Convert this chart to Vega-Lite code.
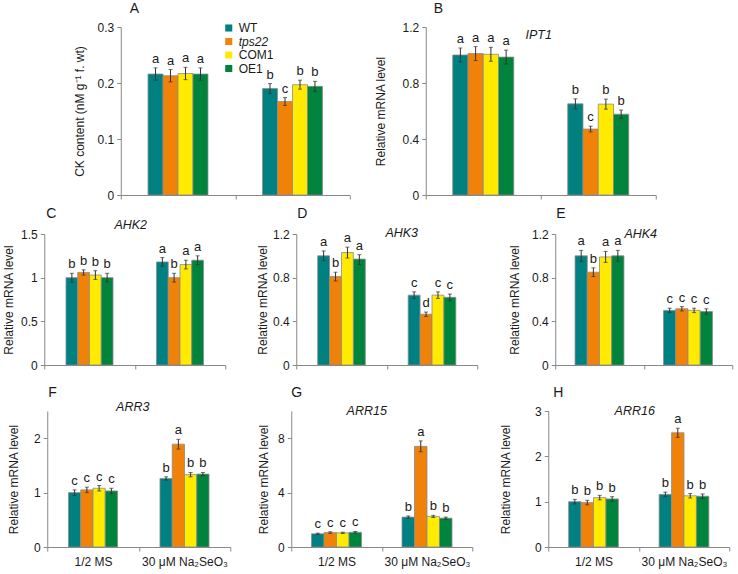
{
"$schema": "https://vega.github.io/schema/vega-lite/v6.json",
"background": "white",
"padding": {"left": 2, "top": 2, "right": 2, "bottom": 2},
"config": {"font": "Liberation Sans", "view": {"stroke": null},
 "axis": {"domainColor": "#888", "tickColor": "#888", "tickSize": 4, "labelFontSize": 12, "titleFontSize": 12, "titleFontWeight": "normal", "labelColor": "#1a1a1a", "titleColor": "#1a1a1a", "grid": false},
 "axisY": {"labelPadding": 3, "titlePadding": 5},
 "axisX": {"tickBand": "extent", "labelAngle": 0, "labelPadding": 5}
},
"datasets": {"d": [
{"p":"A","c":"1/2 MS","g":"WT","v":0.216,"lo":0.205,"hi":0.227,"L":"a"},
{"p":"A","c":"1/2 MS","g":"tps22","v":0.213,"lo":0.202,"hi":0.224,"L":"a"},
{"p":"A","c":"1/2 MS","g":"COM1","v":0.217,"lo":0.206,"hi":0.228,"L":"a"},
{"p":"A","c":"1/2 MS","g":"OE1","v":0.216,"lo":0.205,"hi":0.227,"L":"a"},
{"p":"A","c":"30 μM Na₂SeO₃","g":"WT","v":0.190,"lo":0.181,"hi":0.199,"L":"b"},
{"p":"A","c":"30 μM Na₂SeO₃","g":"tps22","v":0.167,"lo":0.160,"hi":0.174,"L":"c"},
{"p":"A","c":"30 μM Na₂SeO₃","g":"COM1","v":0.197,"lo":0.189,"hi":0.205,"L":"b"},
{"p":"A","c":"30 μM Na₂SeO₃","g":"OE1","v":0.194,"lo":0.185,"hi":0.203,"L":"b"},
{"p":"B","c":"1/2 MS","g":"WT","v":1.0,"lo":0.95,"hi":1.05,"L":"a"},
{"p":"B","c":"1/2 MS","g":"tps22","v":1.01,"lo":0.96,"hi":1.06,"L":"a"},
{"p":"B","c":"1/2 MS","g":"COM1","v":1.005,"lo":0.955,"hi":1.055,"L":"a"},
{"p":"B","c":"1/2 MS","g":"OE1","v":0.985,"lo":0.935,"hi":1.035,"L":"a"},
{"p":"B","c":"30 μM Na₂SeO₃","g":"WT","v":0.651,"lo":0.615,"hi":0.687,"L":"b"},
{"p":"B","c":"30 μM Na₂SeO₃","g":"tps22","v":0.471,"lo":0.45,"hi":0.492,"L":"c"},
{"p":"B","c":"30 μM Na₂SeO₃","g":"COM1","v":0.649,"lo":0.613,"hi":0.685,"L":"b"},
{"p":"B","c":"30 μM Na₂SeO₃","g":"OE1","v":0.577,"lo":0.547,"hi":0.607,"L":"b"},
{"p":"C","c":"1/2 MS","g":"WT","v":1.0,"lo":0.95,"hi":1.05,"L":"b"},
{"p":"C","c":"1/2 MS","g":"tps22","v":1.06,"lo":1.03,"hi":1.09,"L":"b"},
{"p":"C","c":"1/2 MS","g":"COM1","v":1.03,"lo":0.98,"hi":1.08,"L":"b"},
{"p":"C","c":"1/2 MS","g":"OE1","v":1.0,"lo":0.95,"hi":1.05,"L":"b"},
{"p":"C","c":"30 μM Na₂SeO₃","g":"WT","v":1.18,"lo":1.13,"hi":1.23,"L":"a"},
{"p":"C","c":"30 μM Na₂SeO₃","g":"tps22","v":1.0,"lo":0.95,"hi":1.05,"L":"b"},
{"p":"C","c":"30 μM Na₂SeO₃","g":"COM1","v":1.15,"lo":1.1,"hi":1.2,"L":"a"},
{"p":"C","c":"30 μM Na₂SeO₃","g":"OE1","v":1.2,"lo":1.15,"hi":1.25,"L":"a"},
{"p":"D","c":"1/2 MS","g":"WT","v":1.0,"lo":0.955,"hi":1.045,"L":"a"},
{"p":"D","c":"1/2 MS","g":"tps22","v":0.81,"lo":0.77,"hi":0.85,"L":"b"},
{"p":"D","c":"1/2 MS","g":"COM1","v":1.03,"lo":0.98,"hi":1.08,"L":"a"},
{"p":"D","c":"1/2 MS","g":"OE1","v":0.97,"lo":0.92,"hi":1.01,"L":"a"},
{"p":"D","c":"30 μM Na₂SeO₃","g":"WT","v":0.64,"lo":0.61,"hi":0.67,"L":"c"},
{"p":"D","c":"30 μM Na₂SeO₃","g":"tps22","v":0.465,"lo":0.445,"hi":0.485,"L":"d"},
{"p":"D","c":"30 μM Na₂SeO₃","g":"COM1","v":0.64,"lo":0.61,"hi":0.67,"L":"c"},
{"p":"D","c":"30 μM Na₂SeO₃","g":"OE1","v":0.62,"lo":0.59,"hi":0.65,"L":"c"},
{"p":"E","c":"1/2 MS","g":"WT","v":1.0,"lo":0.95,"hi":1.05,"L":"a"},
{"p":"E","c":"1/2 MS","g":"tps22","v":0.85,"lo":0.81,"hi":0.89,"L":"b"},
{"p":"E","c":"1/2 MS","g":"COM1","v":0.99,"lo":0.94,"hi":1.04,"L":"a"},
{"p":"E","c":"1/2 MS","g":"OE1","v":1.0,"lo":0.95,"hi":1.05,"L":"a"},
{"p":"E","c":"30 μM Na₂SeO₃","g":"WT","v":0.50,"lo":0.48,"hi":0.52,"L":"c"},
{"p":"E","c":"30 μM Na₂SeO₃","g":"tps22","v":0.515,"lo":0.495,"hi":0.535,"L":"c"},
{"p":"E","c":"30 μM Na₂SeO₃","g":"COM1","v":0.50,"lo":0.48,"hi":0.52,"L":"c"},
{"p":"E","c":"30 μM Na₂SeO₃","g":"OE1","v":0.49,"lo":0.465,"hi":0.515,"L":"c"},
{"p":"F","c":"1/2 MS","g":"WT","v":1.0,"lo":0.95,"hi":1.05,"L":"c"},
{"p":"F","c":"1/2 MS","g":"tps22","v":1.05,"lo":1.0,"hi":1.1,"L":"c"},
{"p":"F","c":"1/2 MS","g":"COM1","v":1.08,"lo":1.03,"hi":1.13,"L":"c"},
{"p":"F","c":"1/2 MS","g":"OE1","v":1.03,"lo":0.98,"hi":1.08,"L":"c"},
{"p":"F","c":"30 μM Na₂SeO₃","g":"WT","v":1.26,"lo":1.23,"hi":1.29,"L":"b"},
{"p":"F","c":"30 μM Na₂SeO₃","g":"tps22","v":1.89,"lo":1.8,"hi":1.98,"L":"a"},
{"p":"F","c":"30 μM Na₂SeO₃","g":"COM1","v":1.33,"lo":1.29,"hi":1.37,"L":"b"},
{"p":"F","c":"30 μM Na₂SeO₃","g":"OE1","v":1.34,"lo":1.31,"hi":1.37,"L":"b"},
{"p":"G","c":"1/2 MS","g":"WT","v":0.97,"lo":0.92,"hi":1.02,"L":"c"},
{"p":"G","c":"1/2 MS","g":"tps22","v":1.06,"lo":1.0,"hi":1.12,"L":"c"},
{"p":"G","c":"1/2 MS","g":"COM1","v":1.04,"lo":0.99,"hi":1.09,"L":"c"},
{"p":"G","c":"1/2 MS","g":"OE1","v":1.08,"lo":1.02,"hi":1.14,"L":"c"},
{"p":"G","c":"30 μM Na₂SeO₃","g":"WT","v":2.2,"lo":2.12,"hi":2.28,"L":"b"},
{"p":"G","c":"30 μM Na₂SeO₃","g":"tps22","v":7.4,"lo":7.0,"hi":7.8,"L":"a"},
{"p":"G","c":"30 μM Na₂SeO₃","g":"COM1","v":2.25,"lo":2.17,"hi":2.33,"L":"b"},
{"p":"G","c":"30 μM Na₂SeO₃","g":"OE1","v":2.12,"lo":2.04,"hi":2.2,"L":"b"},
{"p":"H","c":"1/2 MS","g":"WT","v":1.0,"lo":0.95,"hi":1.05,"L":"b"},
{"p":"H","c":"1/2 MS","g":"tps22","v":0.98,"lo":0.93,"hi":1.03,"L":"b"},
{"p":"H","c":"1/2 MS","g":"COM1","v":1.09,"lo":1.04,"hi":1.14,"L":"b"},
{"p":"H","c":"1/2 MS","g":"OE1","v":1.06,"lo":1.01,"hi":1.11,"L":"b"},
{"p":"H","c":"30 μM Na₂SeO₃","g":"WT","v":1.16,"lo":1.11,"hi":1.21,"L":"b"},
{"p":"H","c":"30 μM Na₂SeO₃","g":"tps22","v":2.52,"lo":2.42,"hi":2.62,"L":"a"},
{"p":"H","c":"30 μM Na₂SeO₃","g":"COM1","v":1.13,"lo":1.08,"hi":1.18,"L":"b"},
{"p":"H","c":"30 μM Na₂SeO₃","g":"OE1","v":1.12,"lo":1.07,"hi":1.17,"L":"b"}
]},
"center": true,
"spacing": 6,
"resolve": {"scale": {"x": "independent", "y": "independent", "xOffset": "independent", "color": "independent"}, "legend": {"color": "independent"}},
"vconcat": [
{"hconcat": [
 {"width": 229, "height": 168,
  "data": {"name": "d"}, "transform": [{"filter": "datum.p === 'A'"}],
  "layer": [
   {"mark": {"type": "bar", "stroke": "#8c8c8c", "strokeWidth": 0.8},
    "encoding": {
     "x": {"field": "c", "type": "nominal", "title": null, "scale": {"domain": ["1/2 MS", "30 μM Na₂SeO₃"], "paddingInner": 0, "paddingOuter": 0}, "axis": {"labels": false}},
     "xOffset": {"field": "g", "type": "nominal", "scale": {"domain": ["_l", "WT", "tps22", "COM1", "OE1", "_r"], "paddingInner": 0, "paddingOuter": 0.82}},
     "y": {"field": "v", "type": "quantitative", "title": "CK content (nM g⁻¹ f. wt)", "scale": {"domain": [0, 0.3], "nice": false}, "axis": {"values": [0, 0.1, 0.2, 0.3], "format": ".1~f", "titlePadding": 10.3}},
     "color": {"field": "g", "type": "nominal", "scale": {"domain": ["WT", "tps22", "COM1", "OE1"], "range": ["#008080", "#f0820a", "#ffea00", "#00843d"]},
      "legend": {"orient": "none", "legendX": 102, "legendY": -5, "title": null, "symbolType": "square", "symbolSize": 50, "symbolStrokeWidth": 0, "labelFontSize": 12, "rowPadding": 1.5, "labelOffset": 4, "labelColor": "#1a1a1a", "labelFontStyle": {"expr": "datum.label === 'tps22' ? 'italic' : 'normal'"}}}
    }},
   {"mark": {"type": "rule", "color": "#333", "strokeWidth": 1},
    "encoding": {"x": {"field": "c", "type": "nominal"}, "xOffset": {"field": "g", "type": "nominal"}, "y": {"field": "lo", "type": "quantitative", "title": "CK content (nM g⁻¹ f. wt)"}, "y2": {"field": "hi"}}},
   {"mark": {"type": "tick", "color": "#333", "size": 4, "thickness": 1},
    "encoding": {"x": {"field": "c", "type": "nominal"}, "xOffset": {"field": "g", "type": "nominal"}, "y": {"field": "hi", "type": "quantitative", "title": "CK content (nM g⁻¹ f. wt)"}}},
   {"mark": {"type": "tick", "color": "#333", "size": 4, "thickness": 1},
    "encoding": {"x": {"field": "c", "type": "nominal"}, "xOffset": {"field": "g", "type": "nominal"}, "y": {"field": "lo", "type": "quantitative", "title": "CK content (nM g⁻¹ f. wt)"}}},
   {"mark": {"type": "text", "baseline": "bottom", "dy": -2, "fontSize": 13, "color": "#1a1a1a"},
    "encoding": {"x": {"field": "c", "type": "nominal"}, "xOffset": {"field": "g", "type": "nominal"}, "y": {"field": "hi", "type": "quantitative", "title": "CK content (nM g⁻¹ f. wt)"}, "text": {"field": "L"}}},
   {"data": {"values": [{"t": "A"}]},
    "mark": {"type": "text", "fontSize": 14, "align": "left", "baseline": "alphabetic", "dx": 9, "dy": -14, "color": "#1a1a1a"},
    "encoding": {"x": {"datum": "1/2 MS", "type": "nominal", "bandPosition": 0}, "y": {"datum": 0.3, "type": "quantitative", "title": "CK content (nM g⁻¹ f. wt)"}, "text": {"field": "t"}}}
  ]},
 {"width": 230, "height": 168,
  "data": {"name": "d"}, "transform": [{"filter": "datum.p === 'B'"}],
  "layer": [
   {"mark": {"type": "bar", "stroke": "#8c8c8c", "strokeWidth": 0.8},
    "encoding": {
     "x": {"field": "c", "type": "nominal", "title": null, "scale": {"domain": ["1/2 MS", "30 μM Na₂SeO₃"], "paddingInner": 0, "paddingOuter": 0}, "axis": {"labels": false}},
     "xOffset": {"field": "g", "type": "nominal", "scale": {"domain": ["_l", "WT", "tps22", "COM1", "OE1", "_r"], "paddingInner": 0, "paddingOuter": 0.77}},
     "y": {"field": "v", "type": "quantitative", "title": "Relative mRNA level", "scale": {"domain": [0, 1.2], "nice": false}, "axis": {"values": [0, 0.4, 0.8, 1.2], "format": ".1~f", "titlePadding": 14.3}},
     "color": {"field": "g", "type": "nominal", "scale": {"domain": ["WT", "tps22", "COM1", "OE1"], "range": ["#008080", "#f0820a", "#ffea00", "#00843d"]}, "legend": null}
    }},
   {"mark": {"type": "rule", "color": "#333", "strokeWidth": 1},
    "encoding": {"x": {"field": "c", "type": "nominal"}, "xOffset": {"field": "g", "type": "nominal"}, "y": {"field": "lo", "type": "quantitative", "title": "Relative mRNA level"}, "y2": {"field": "hi"}}},
   {"mark": {"type": "tick", "color": "#333", "size": 4, "thickness": 1},
    "encoding": {"x": {"field": "c", "type": "nominal"}, "xOffset": {"field": "g", "type": "nominal"}, "y": {"field": "hi", "type": "quantitative", "title": "Relative mRNA level"}}},
   {"mark": {"type": "tick", "color": "#333", "size": 4, "thickness": 1},
    "encoding": {"x": {"field": "c", "type": "nominal"}, "xOffset": {"field": "g", "type": "nominal"}, "y": {"field": "lo", "type": "quantitative", "title": "Relative mRNA level"}}},
   {"mark": {"type": "text", "baseline": "bottom", "dy": -2, "fontSize": 13, "color": "#1a1a1a"},
    "encoding": {"x": {"field": "c", "type": "nominal"}, "xOffset": {"field": "g", "type": "nominal"}, "y": {"field": "hi", "type": "quantitative", "title": "Relative mRNA level"}, "text": {"field": "L"}}},
   {"data": {"values": [{"gene": "IPT1"}]},
    "mark": {"type": "text", "fontStyle": "italic", "fontSize": 12.5, "baseline": "middle", "dx": -2, "dy": 8, "color": "#1a1a1a"},
    "encoding": {"x": {"datum": "1/2 MS", "type": "nominal", "bandPosition": 1}, "y": {"datum": 1.2, "type": "quantitative", "title": "Relative mRNA level"}, "text": {"field": "gene"}}},
   {"data": {"values": [{"t": "B"}]},
    "mark": {"type": "text", "fontSize": 14, "align": "left", "baseline": "alphabetic", "dx": 8, "dy": -14, "color": "#1a1a1a"},
    "encoding": {"x": {"datum": "1/2 MS", "type": "nominal", "bandPosition": 0}, "y": {"datum": 1.2, "type": "quantitative", "title": "Relative mRNA level"}, "text": {"field": "t"}}}
  ]}
 ], "spacing": 24, "resolve": {"scale": {"x": "independent", "y": "independent", "xOffset": "independent", "color": "independent"}, "legend": {"color": "independent"}}},
{"hconcat": [
 {"width": 181, "height": 131,
  "data": {"name": "d"}, "transform": [{"filter": "datum.p === 'C'"}],
  "layer": [
   {"mark": {"type": "bar", "stroke": "#8c8c8c", "strokeWidth": 0.8},
    "encoding": {
     "x": {"field": "c", "type": "nominal", "title": null, "scale": {"domain": ["1/2 MS", "30 μM Na₂SeO₃"], "paddingInner": 0, "paddingOuter": 0}, "axis": {"labels": false, "minExtent": 15}},
     "xOffset": {"field": "g", "type": "nominal", "scale": {"domain": ["_l", "WT", "tps22", "COM1", "OE1", "_r"], "paddingInner": 0, "paddingOuter": 0.85}},
     "y": {"field": "v", "type": "quantitative", "title": "Relative mRNA level", "scale": {"domain": [0, 1.5], "nice": false}, "axis": {"values": [0, 0.5, 1, 1.5], "format": ".1~f", "titlePadding": 5.3}},
     "color": {"field": "g", "type": "nominal", "scale": {"domain": ["WT", "tps22", "COM1", "OE1"], "range": ["#008080", "#f0820a", "#ffea00", "#00843d"]}, "legend": null}
    }},
   {"mark": {"type": "rule", "color": "#333", "strokeWidth": 1},
    "encoding": {"x": {"field": "c", "type": "nominal"}, "xOffset": {"field": "g", "type": "nominal"}, "y": {"field": "lo", "type": "quantitative", "title": "Relative mRNA level"}, "y2": {"field": "hi"}}},
   {"mark": {"type": "tick", "color": "#333", "size": 4, "thickness": 1},
    "encoding": {"x": {"field": "c", "type": "nominal"}, "xOffset": {"field": "g", "type": "nominal"}, "y": {"field": "hi", "type": "quantitative", "title": "Relative mRNA level"}}},
   {"mark": {"type": "tick", "color": "#333", "size": 4, "thickness": 1},
    "encoding": {"x": {"field": "c", "type": "nominal"}, "xOffset": {"field": "g", "type": "nominal"}, "y": {"field": "lo", "type": "quantitative", "title": "Relative mRNA level"}}},
   {"mark": {"type": "text", "baseline": "bottom", "dy": -2, "fontSize": 13, "color": "#1a1a1a"},
    "encoding": {"x": {"field": "c", "type": "nominal"}, "xOffset": {"field": "g", "type": "nominal"}, "y": {"field": "hi", "type": "quantitative", "title": "Relative mRNA level"}, "text": {"field": "L"}}},
   {"data": {"values": [{"gene": "AHK2"}]},
    "mark": {"type": "text", "fontStyle": "italic", "fontSize": 12.5, "baseline": "middle", "dx": -4, "dy": -9, "color": "#1a1a1a"},
    "encoding": {"x": {"datum": "1/2 MS", "type": "nominal", "bandPosition": 1}, "y": {"datum": 1.5, "type": "quantitative", "title": "Relative mRNA level"}, "text": {"field": "gene"}}},
   {"data": {"values": [{"t": "C"}]},
    "mark": {"type": "text", "fontSize": 14, "align": "left", "baseline": "alphabetic", "dx": 2, "dy": -16, "color": "#1a1a1a"},
    "encoding": {"x": {"datum": "1/2 MS", "type": "nominal", "bandPosition": 0}, "y": {"datum": 1.5, "type": "quantitative", "title": "Relative mRNA level"}, "text": {"field": "t"}}}
  ]},
 {"width": 181, "height": 131,
  "data": {"name": "d"}, "transform": [{"filter": "datum.p === 'D'"}],
  "layer": [
   {"mark": {"type": "bar", "stroke": "#8c8c8c", "strokeWidth": 0.8},
    "encoding": {
     "x": {"field": "c", "type": "nominal", "title": null, "scale": {"domain": ["1/2 MS", "30 μM Na₂SeO₃"], "paddingInner": 0, "paddingOuter": 0}, "axis": {"labels": false, "minExtent": 15}},
     "xOffset": {"field": "g", "type": "nominal", "scale": {"domain": ["_l", "WT", "tps22", "COM1", "OE1", "_r"], "paddingInner": 0, "paddingOuter": 0.8}},
     "y": {"field": "v", "type": "quantitative", "title": "Relative mRNA level", "scale": {"domain": [0, 1.2], "nice": false}, "axis": {"values": [0, 0.4, 0.8, 1.2], "format": ".1~f", "titlePadding": 3.3}},
     "color": {"field": "g", "type": "nominal", "scale": {"domain": ["WT", "tps22", "COM1", "OE1"], "range": ["#008080", "#f0820a", "#ffea00", "#00843d"]}, "legend": null}
    }},
   {"mark": {"type": "rule", "color": "#333", "strokeWidth": 1},
    "encoding": {"x": {"field": "c", "type": "nominal"}, "xOffset": {"field": "g", "type": "nominal"}, "y": {"field": "lo", "type": "quantitative", "title": "Relative mRNA level"}, "y2": {"field": "hi"}}},
   {"mark": {"type": "tick", "color": "#333", "size": 4, "thickness": 1},
    "encoding": {"x": {"field": "c", "type": "nominal"}, "xOffset": {"field": "g", "type": "nominal"}, "y": {"field": "hi", "type": "quantitative", "title": "Relative mRNA level"}}},
   {"mark": {"type": "tick", "color": "#333", "size": 4, "thickness": 1},
    "encoding": {"x": {"field": "c", "type": "nominal"}, "xOffset": {"field": "g", "type": "nominal"}, "y": {"field": "lo", "type": "quantitative", "title": "Relative mRNA level"}}},
   {"mark": {"type": "text", "baseline": "bottom", "dy": -2, "fontSize": 13, "color": "#1a1a1a"},
    "encoding": {"x": {"field": "c", "type": "nominal"}, "xOffset": {"field": "g", "type": "nominal"}, "y": {"field": "hi", "type": "quantitative", "title": "Relative mRNA level"}, "text": {"field": "L"}}},
   {"data": {"values": [{"gene": "AHK3"}]},
    "mark": {"type": "text", "fontStyle": "italic", "fontSize": 12.5, "baseline": "middle", "dx": 15, "dy": -1, "color": "#1a1a1a"},
    "encoding": {"x": {"datum": "1/2 MS", "type": "nominal", "bandPosition": 1}, "y": {"datum": 1.2, "type": "quantitative", "title": "Relative mRNA level"}, "text": {"field": "gene"}}},
   {"data": {"values": [{"t": "D"}]},
    "mark": {"type": "text", "fontSize": 14, "align": "left", "baseline": "alphabetic", "dx": 1, "dy": -16, "color": "#1a1a1a"},
    "encoding": {"x": {"datum": "1/2 MS", "type": "nominal", "bandPosition": 0}, "y": {"datum": 1.2, "type": "quantitative", "title": "Relative mRNA level"}, "text": {"field": "t"}}}
  ]},
 {"width": 177, "height": 131,
  "data": {"name": "d"}, "transform": [{"filter": "datum.p === 'E'"}],
  "layer": [
   {"mark": {"type": "bar", "stroke": "#8c8c8c", "strokeWidth": 0.8},
    "encoding": {
     "x": {"field": "c", "type": "nominal", "title": null, "scale": {"domain": ["1/2 MS", "30 μM Na₂SeO₃"], "paddingInner": 0, "paddingOuter": 0}, "axis": {"labels": false, "minExtent": 15}},
     "xOffset": {"field": "g", "type": "nominal", "scale": {"domain": ["_l", "WT", "tps22", "COM1", "OE1", "_r"], "paddingInner": 0, "paddingOuter": 0.62}},
     "y": {"field": "v", "type": "quantitative", "title": "Relative mRNA level", "scale": {"domain": [0, 1.2], "nice": false}, "axis": {"values": [0, 0.4, 0.8, 1.2], "format": ".1~f", "titlePadding": 10.3}},
     "color": {"field": "g", "type": "nominal", "scale": {"domain": ["WT", "tps22", "COM1", "OE1"], "range": ["#008080", "#f0820a", "#ffea00", "#00843d"]}, "legend": null}
    }},
   {"mark": {"type": "rule", "color": "#333", "strokeWidth": 1},
    "encoding": {"x": {"field": "c", "type": "nominal"}, "xOffset": {"field": "g", "type": "nominal"}, "y": {"field": "lo", "type": "quantitative", "title": "Relative mRNA level"}, "y2": {"field": "hi"}}},
   {"mark": {"type": "tick", "color": "#333", "size": 4, "thickness": 1},
    "encoding": {"x": {"field": "c", "type": "nominal"}, "xOffset": {"field": "g", "type": "nominal"}, "y": {"field": "hi", "type": "quantitative", "title": "Relative mRNA level"}}},
   {"mark": {"type": "tick", "color": "#333", "size": 4, "thickness": 1},
    "encoding": {"x": {"field": "c", "type": "nominal"}, "xOffset": {"field": "g", "type": "nominal"}, "y": {"field": "lo", "type": "quantitative", "title": "Relative mRNA level"}}},
   {"mark": {"type": "text", "baseline": "bottom", "dy": -2, "fontSize": 13, "color": "#1a1a1a"},
    "encoding": {"x": {"field": "c", "type": "nominal"}, "xOffset": {"field": "g", "type": "nominal"}, "y": {"field": "hi", "type": "quantitative", "title": "Relative mRNA level"}, "text": {"field": "L"}}},
   {"data": {"values": [{"gene": "AHK4"}]},
    "mark": {"type": "text", "fontStyle": "italic", "fontSize": 12.5, "baseline": "middle", "dx": -3, "dy": 0, "color": "#1a1a1a"},
    "encoding": {"x": {"datum": "1/2 MS", "type": "nominal", "bandPosition": 1}, "y": {"datum": 1.2, "type": "quantitative", "title": "Relative mRNA level"}, "text": {"field": "gene"}}},
   {"data": {"values": [{"t": "E"}]},
    "mark": {"type": "text", "fontSize": 14, "align": "left", "baseline": "alphabetic", "dx": 1, "dy": -16, "color": "#1a1a1a"},
    "encoding": {"x": {"datum": "1/2 MS", "type": "nominal", "bandPosition": 0}, "y": {"datum": 1.2, "type": "quantitative", "title": "Relative mRNA level"}, "text": {"field": "t"}}}
  ]}
 ], "spacing": 30, "resolve": {"scale": {"x": "independent", "y": "independent", "xOffset": "independent", "color": "independent"}, "legend": {"color": "independent"}}},
{"hconcat": [
 {"width": 183, "height": 136,
  "data": {"name": "d"}, "transform": [{"filter": "datum.p === 'F'"}],
  "layer": [
   {"mark": {"type": "bar", "stroke": "#8c8c8c", "strokeWidth": 0.8},
    "encoding": {
     "x": {"field": "c", "type": "nominal", "title": null, "scale": {"domain": ["1/2 MS", "30 μM Na₂SeO₃"], "paddingInner": 0, "paddingOuter": 0}, "axis": {"labels": true}},
     "xOffset": {"field": "g", "type": "nominal", "scale": {"domain": ["_l", "WT", "tps22", "COM1", "OE1", "_r"], "paddingInner": 0, "paddingOuter": 0.73}},
     "y": {"field": "v", "type": "quantitative", "title": "Relative mRNA level", "scale": {"domain": [0, 2.5], "nice": false}, "axis": {"values": [0, 0.5, 1, 1.5, 2, 2.5], "format": ".1~f", "titlePadding": 13.3}},
     "color": {"field": "g", "type": "nominal", "scale": {"domain": ["WT", "tps22", "COM1", "OE1"], "range": ["#008080", "#f0820a", "#ffea00", "#00843d"]}, "legend": null}
    }},
   {"mark": {"type": "rule", "color": "#333", "strokeWidth": 1},
    "encoding": {"x": {"field": "c", "type": "nominal"}, "xOffset": {"field": "g", "type": "nominal"}, "y": {"field": "lo", "type": "quantitative", "title": "Relative mRNA level"}, "y2": {"field": "hi"}}},
   {"mark": {"type": "tick", "color": "#333", "size": 4, "thickness": 1},
    "encoding": {"x": {"field": "c", "type": "nominal"}, "xOffset": {"field": "g", "type": "nominal"}, "y": {"field": "hi", "type": "quantitative", "title": "Relative mRNA level"}}},
   {"mark": {"type": "tick", "color": "#333", "size": 4, "thickness": 1},
    "encoding": {"x": {"field": "c", "type": "nominal"}, "xOffset": {"field": "g", "type": "nominal"}, "y": {"field": "lo", "type": "quantitative", "title": "Relative mRNA level"}}},
   {"mark": {"type": "text", "baseline": "bottom", "dy": -2, "fontSize": 13, "color": "#1a1a1a"},
    "encoding": {"x": {"field": "c", "type": "nominal"}, "xOffset": {"field": "g", "type": "nominal"}, "y": {"field": "hi", "type": "quantitative", "title": "Relative mRNA level"}, "text": {"field": "L"}}},
   {"data": {"values": [{"gene": "ARR3"}]},
    "mark": {"type": "text", "fontStyle": "italic", "fontSize": 12.5, "baseline": "middle", "dx": -6, "dy": -4, "color": "#1a1a1a"},
    "encoding": {"x": {"datum": "1/2 MS", "type": "nominal", "bandPosition": 1}, "y": {"datum": 2.5, "type": "quantitative", "title": "Relative mRNA level"}, "text": {"field": "gene"}}},
   {"data": {"values": [{"t": "F"}]},
    "mark": {"type": "text", "fontSize": 14, "align": "left", "baseline": "alphabetic", "dx": 1, "dy": -14, "color": "#1a1a1a"},
    "encoding": {"x": {"datum": "1/2 MS", "type": "nominal", "bandPosition": 0}, "y": {"datum": 2.5, "type": "quantitative", "title": "Relative mRNA level"}, "text": {"field": "t"}}}
  ]},
 {"width": 181, "height": 136,
  "data": {"name": "d"}, "transform": [{"filter": "datum.p === 'G'"}],
  "layer": [
   {"mark": {"type": "bar", "stroke": "#8c8c8c", "strokeWidth": 0.8},
    "encoding": {
     "x": {"field": "c", "type": "nominal", "title": null, "scale": {"domain": ["1/2 MS", "30 μM Na₂SeO₃"], "paddingInner": 0, "paddingOuter": 0}, "axis": {"labels": true}},
     "xOffset": {"field": "g", "type": "nominal", "scale": {"domain": ["_l", "WT", "tps22", "COM1", "OE1", "_r"], "paddingInner": 0, "paddingOuter": 0.62}},
     "y": {"field": "v", "type": "quantitative", "title": "Relative mRNA level", "scale": {"domain": [0, 10], "nice": false}, "axis": {"values": [0, 2, 4, 6, 8, 10], "format": ".1~f", "titlePadding": 6.7}},
     "color": {"field": "g", "type": "nominal", "scale": {"domain": ["WT", "tps22", "COM1", "OE1"], "range": ["#008080", "#f0820a", "#ffea00", "#00843d"]}, "legend": null}
    }},
   {"mark": {"type": "rule", "color": "#333", "strokeWidth": 1},
    "encoding": {"x": {"field": "c", "type": "nominal"}, "xOffset": {"field": "g", "type": "nominal"}, "y": {"field": "lo", "type": "quantitative", "title": "Relative mRNA level"}, "y2": {"field": "hi"}}},
   {"mark": {"type": "tick", "color": "#333", "size": 4, "thickness": 1},
    "encoding": {"x": {"field": "c", "type": "nominal"}, "xOffset": {"field": "g", "type": "nominal"}, "y": {"field": "hi", "type": "quantitative", "title": "Relative mRNA level"}}},
   {"mark": {"type": "tick", "color": "#333", "size": 4, "thickness": 1},
    "encoding": {"x": {"field": "c", "type": "nominal"}, "xOffset": {"field": "g", "type": "nominal"}, "y": {"field": "lo", "type": "quantitative", "title": "Relative mRNA level"}}},
   {"mark": {"type": "text", "baseline": "bottom", "dy": -2, "fontSize": 13, "color": "#1a1a1a"},
    "encoding": {"x": {"field": "c", "type": "nominal"}, "xOffset": {"field": "g", "type": "nominal"}, "y": {"field": "hi", "type": "quantitative", "title": "Relative mRNA level"}, "text": {"field": "L"}}},
   {"data": {"values": [{"gene": "ARR15"}]},
    "mark": {"type": "text", "fontStyle": "italic", "fontSize": 12.5, "baseline": "middle", "dx": -15, "dy": 0, "color": "#1a1a1a"},
    "encoding": {"x": {"datum": "1/2 MS", "type": "nominal", "bandPosition": 1}, "y": {"datum": 10, "type": "quantitative", "title": "Relative mRNA level"}, "text": {"field": "gene"}}},
   {"data": {"values": [{"t": "G"}]},
    "mark": {"type": "text", "fontSize": 14, "align": "left", "baseline": "alphabetic", "dx": 0, "dy": -14, "color": "#1a1a1a"},
    "encoding": {"x": {"datum": "1/2 MS", "type": "nominal", "bandPosition": 0}, "y": {"datum": 10, "type": "quantitative", "title": "Relative mRNA level"}, "text": {"field": "t"}}}
  ]},
 {"width": 181, "height": 136,
  "data": {"name": "d"}, "transform": [{"filter": "datum.p === 'H'"}],
  "layer": [
   {"mark": {"type": "bar", "stroke": "#8c8c8c", "strokeWidth": 0.8},
    "encoding": {
     "x": {"field": "c", "type": "nominal", "title": null, "scale": {"domain": ["1/2 MS", "30 μM Na₂SeO₃"], "paddingInner": 0, "paddingOuter": 0}, "axis": {"labels": true}},
     "xOffset": {"field": "g", "type": "nominal", "scale": {"domain": ["_l", "WT", "tps22", "COM1", "OE1", "_r"], "paddingInner": 0, "paddingOuter": 0.64}},
     "y": {"field": "v", "type": "quantitative", "title": "Relative mRNA level", "scale": {"domain": [0, 3], "nice": false}, "axis": {"values": [0, 1, 2, 3], "format": ".1~f", "titlePadding": 22.3}},
     "color": {"field": "g", "type": "nominal", "scale": {"domain": ["WT", "tps22", "COM1", "OE1"], "range": ["#008080", "#f0820a", "#ffea00", "#00843d"]}, "legend": null}
    }},
   {"mark": {"type": "rule", "color": "#333", "strokeWidth": 1},
    "encoding": {"x": {"field": "c", "type": "nominal"}, "xOffset": {"field": "g", "type": "nominal"}, "y": {"field": "lo", "type": "quantitative", "title": "Relative mRNA level"}, "y2": {"field": "hi"}}},
   {"mark": {"type": "tick", "color": "#333", "size": 4, "thickness": 1},
    "encoding": {"x": {"field": "c", "type": "nominal"}, "xOffset": {"field": "g", "type": "nominal"}, "y": {"field": "hi", "type": "quantitative", "title": "Relative mRNA level"}}},
   {"mark": {"type": "tick", "color": "#333", "size": 4, "thickness": 1},
    "encoding": {"x": {"field": "c", "type": "nominal"}, "xOffset": {"field": "g", "type": "nominal"}, "y": {"field": "lo", "type": "quantitative", "title": "Relative mRNA level"}}},
   {"mark": {"type": "text", "baseline": "bottom", "dy": -2, "fontSize": 13, "color": "#1a1a1a"},
    "encoding": {"x": {"field": "c", "type": "nominal"}, "xOffset": {"field": "g", "type": "nominal"}, "y": {"field": "hi", "type": "quantitative", "title": "Relative mRNA level"}, "text": {"field": "L"}}},
   {"data": {"values": [{"gene": "ARR16"}]},
    "mark": {"type": "text", "fontStyle": "italic", "fontSize": 12.5, "baseline": "middle", "dx": -4, "dy": 0, "color": "#1a1a1a"},
    "encoding": {"x": {"datum": "1/2 MS", "type": "nominal", "bandPosition": 1}, "y": {"datum": 3, "type": "quantitative", "title": "Relative mRNA level"}, "text": {"field": "gene"}}},
   {"data": {"values": [{"t": "H"}]},
    "mark": {"type": "text", "fontSize": 14, "align": "left", "baseline": "alphabetic", "dx": 5, "dy": -14, "color": "#1a1a1a"},
    "encoding": {"x": {"datum": "1/2 MS", "type": "nominal", "bandPosition": 0}, "y": {"datum": 3, "type": "quantitative", "title": "Relative mRNA level"}, "text": {"field": "t"}}}
  ]}
 ], "spacing": 26, "resolve": {"scale": {"x": "independent", "y": "independent", "xOffset": "independent", "color": "independent"}, "legend": {"color": "independent"}}}
]
}
